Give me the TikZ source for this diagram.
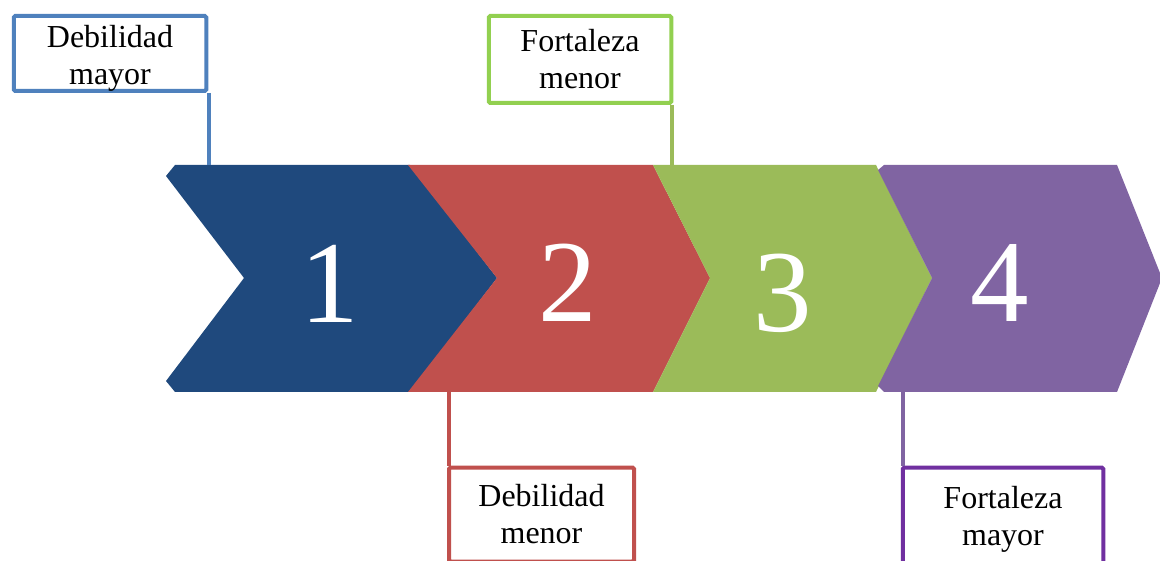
\documentclass[tikz,border=0pt]{standalone}
\usepackage{fontspec}
\setmainfont{Liberation Serif}
\definecolor{chevblue}{RGB}{31,73,125}
\definecolor{chevred}{RGB}{192,80,77}
\definecolor{chevgreen}{RGB}{155,187,89}
\definecolor{chevpurple}{RGB}{128,100,162}
\definecolor{boxblue}{RGB}{79,129,189}
\definecolor{boxgreen}{RGB}{146,208,80}
\definecolor{boxred}{RGB}{192,80,77}
\definecolor{boxpurple}{RGB}{112,48,160}
\begin{document}
\begin{tikzpicture}[x=1pt,y=-1pt,
    num/.style={text=white,anchor=base,inner sep=0,font=\fontsize{117}{120}\selectfont},
    callout/.style={draw,line width=4pt,fill=white,rounded corners=1.5pt,align=center,inner sep=0,font=\fontsize{32}{37}\selectfont},
    leader/.style={line width=4pt}]
    \clip (0,0) rectangle (1160,561);
    % chevrons
    \fill[chevblue] (175,165) -- (410,165) -- (497,278) -- (410,392) -- (175,392) -- (166,381) -- (244,278) -- (166,176) -- cycle;
    \fill[chevred] (408,165) -- (653,165) -- (710,278) -- (653,392) -- (408,392) -- (497,278) -- cycle;
    \fill[chevgreen] (653,165) -- (876,165) -- (932,278) -- (876,392) -- (653,392) -- (710,278) -- cycle;
    \fill[chevpurple] (884,165) -- (1117,165) -- (1162,278) -- (1117,392) -- (884,392) -- (878,386) -- (932,278) -- (878,170) -- cycle;
    \node[num] (n1) at (330,323) {1};
    \node[num] (n2) at (568,322) {2};
    \node[num] (n3) at (783,332) {3};
    \node[num] (n4) at (1000,322) {4};
    % points where the leaders meet the band
    \coordinate (t1) at (208.5,165);
    \coordinate (t2) at (671.5,165);
    \coordinate (b2) at (449,392);
    \coordinate (b4) at (902.5,392);
    % callouts
    \node[callout,draw=boxblue,minimum width=192.5,minimum height=75] (dmayor) at (110,53.5) {\rule{0pt}{31pt}Debilidad\\mayor};
    \node[callout,draw=boxgreen,minimum width=182.5,minimum height=87] (fmenor) at (580,59.5) {Fortaleza\\menor};
    \node[callout,draw=boxred,minimum width=185,minimum height=94] (dmenor) at (541.5,514.5) {Debilidad\\menor};
    \node[callout,draw=boxpurple,minimum width=200.5,minimum height=103] (fmayor) at (1003,519) {Fortaleza\\mayor};
    \draw[leader,boxblue] (dmayor.south -| t1) -- (t1);
    \draw[leader,chevgreen] (fmenor.south -| t2) -- (t2);
    \draw[leader,chevred] (dmenor.north -| b2) -- (b2);
    \draw[leader,chevpurple] (fmayor.north -| b4) -- (b4);
\end{tikzpicture}
\end{document}
